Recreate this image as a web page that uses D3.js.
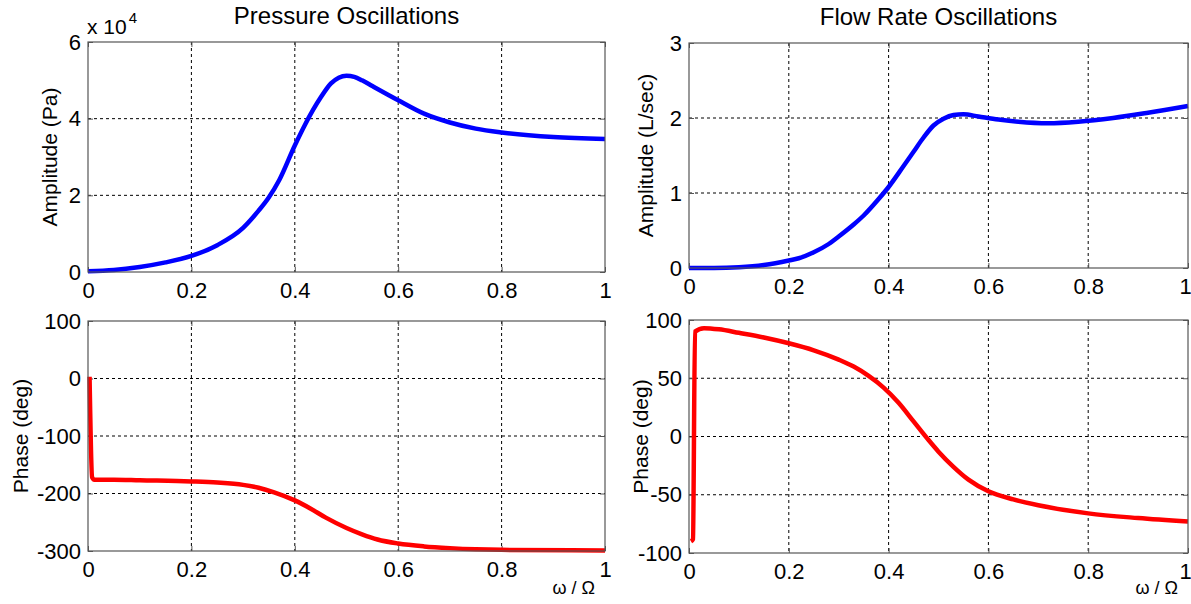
<!DOCTYPE html>
<html>
<head>
<meta charset="utf-8">
<script src="https://cdn.jsdelivr.net/npm/d3@7"></script>
<style>
  body { margin: 0; background: #fff; }
  svg { font-family: "Liberation Sans", Arial, sans-serif; }
  .grid line { stroke: #000; stroke-dasharray: 3,3; stroke-width: 1; }
  .box { fill: none; stroke: #555; stroke-width: 1.2; }
</style>
</head>
<body>
<svg width="1191" height="604"></svg>
<script>
// pressure amplitude (x 10^4 Pa)
const presAmpX = [0, 0.05, 0.1, 0.15, 0.2, 0.25, 0.3, 0.33, 0.35, 0.37, 0.4, 0.42, 0.45, 0.47, 0.485, 0.5, 0.515, 0.53, 0.55, 0.6, 0.65, 0.7, 0.75, 0.8, 0.9, 1.0]
const presAmpY = [0.02, 0.05, 0.13, 0.25, 0.42, 0.7, 1.15, 1.6, 1.95, 2.4, 3.3, 3.85, 4.55, 4.92, 5.07, 5.12, 5.09, 5.0, 4.85, 4.48, 4.13, 3.9, 3.74, 3.64, 3.52, 3.47]

// pressure phase (deg)
const presPhX = [0.003, 0.008, 0.012, 0.05, 0.1, 0.2, 0.25, 0.3, 0.33, 0.36, 0.4, 0.43, 0.46, 0.5, 0.53, 0.56, 0.6, 0.65, 0.7, 0.75, 0.8, 1.0]
const presPhY = [3, -172, -176, -176, -177, -179, -181, -185, -190, -198, -212, -226, -242, -260, -271, -280, -287, -292, -295, -297, -298, -299]

// flow amplitude (L/sec)
const flowAmpX = [0, 0.05, 0.1, 0.15, 0.2, 0.22, 0.25, 0.28, 0.3, 0.33, 0.35, 0.38, 0.4, 0.43, 0.45, 0.47, 0.49, 0.51, 0.53, 0.55, 0.58, 0.62, 0.66, 0.72, 0.78, 0.85, 0.92, 1.0]
const flowAmpY = [0.0, 0.0, 0.01, 0.04, 0.1, 0.13, 0.21, 0.32, 0.42, 0.58, 0.7, 0.92, 1.08, 1.36, 1.55, 1.74, 1.9, 1.99, 2.04, 2.05, 2.02, 1.98, 1.95, 1.93, 1.95, 2.0, 2.07, 2.16]

// flow phase (deg)
const flowPhX = [0.004, 0.008, 0.012, 0.03, 0.06, 0.1, 0.15, 0.2, 0.25, 0.3, 0.33, 0.36, 0.39, 0.42, 0.45, 0.48, 0.5, 0.53, 0.56, 0.6, 0.65, 0.7, 0.8, 0.9, 1.0]
const flowPhY = [-90, -88, 90, 93, 92, 89, 85, 80, 74, 66, 60, 52, 42, 29, 13, -3, -13, -26, -37, -47, -54, -59, -66, -70, -73]

const xTicks = [0, 0.2, 0.4, 0.6, 0.8, 1]
const xTickLabels = ["0", "0.2", "0.4", "0.6", "0.8", "1"]

const svg = d3.select("svg")

const panels = [
  { x0: 88, x1: 605, y0: 42, y1: 272, dom: [0, 6], ticks: [0, 2, 4, 6], xs: presAmpX, ys: presAmpY,
    color: "#0000ff", ylabel: "Amplitude (Pa)", labelX: 50, title: "Pressure Oscillations", titleY: 24, exp: true },
  { x0: 88, x1: 605, y0: 321, y1: 551, dom: [-300, 100], ticks: [-300, -200, -100, 0, 100], xs: presPhX, ys: presPhY,
    color: "#ff0000", ylabel: "Phase (deg)", labelX: 21, xlabel: true },
  { x0: 689, x1: 1188, y0: 43, y1: 268, dom: [0, 3], ticks: [0, 1, 2, 3], xs: flowAmpX, ys: flowAmpY,
    color: "#0000ff", ylabel: "Amplitude (L/sec)", labelX: 646, title: "Flow Rate Oscillations", titleY: 25, right: true },
  { x0: 689, x1: 1188, y0: 320, y1: 553, dom: [-100, 100], ticks: [-100, -50, 0, 50, 100], xs: flowPhX, ys: flowPhY,
    color: "#ff0000", ylabel: "Phase (deg)", labelX: 641, xlabel: true, right: true }
]

panels.forEach(p => {
  const x = d3.scaleLinear().domain([0, 1]).range([p.x0, p.x1])
  const y = d3.scaleLinear().domain(p.dom).range([p.y1, p.y0])
  const g = svg.append("g")

  // grid
  g.append("g").attr("class", "grid")
    .selectAll("line").data(xTicks.slice(1, -1)).enter().append("line")
    .attr("x1", d => x(d)).attr("x2", d => x(d))
    .attr("y1", p.y0).attr("y2", p.y1)
  g.append("g").attr("class", "grid")
    .selectAll("line").data(p.ticks.slice(1, -1)).enter().append("line")
    .attr("x1", p.x0).attr("x2", p.x1)
    .attr("y1", d => y(d)).attr("y2", d => y(d))

  // axes, ticks pointing inward like matlab
  const xAxis = g.append("g")
    .attr("transform", `translate(0,${p.y1})`)
    .call(d3.axisBottom(x).tickValues(xTicks).tickFormat((d, i) => xTickLabels[i]).tickSizeInner(-5).tickSizeOuter(0).tickPadding(10))
  g.append("g")
    .attr("transform", `translate(${p.x0},0)`)
    .call(d3.axisLeft(y).tickValues(p.ticks).tickFormat(d => d).tickSizeInner(-5).tickSizeOuter(0).tickPadding(7))
  g.append("g")
    .attr("transform", `translate(0,${p.y0})`)
    .call(d3.axisTop(x).tickValues(xTicks).tickFormat("").tickSizeInner(-5).tickSizeOuter(0))
  g.append("g")
    .attr("transform", `translate(${p.x1},0)`)
    .call(d3.axisRight(y).tickValues(p.ticks).tickFormat("").tickSizeInner(-5).tickSizeOuter(0))

  g.selectAll(".domain").remove()
  g.selectAll(".tick line").attr("stroke", "#555")
  g.selectAll(".tick text")
    .attr("font-family", "Liberation Sans, Arial, sans-serif")
    .attr("font-size", 22)
    .attr("fill", "#000")

  // keep the last "1" inside the picture on the right plots
  if (p.right) {
    xAxis.selectAll(".tick text").filter(d => d === 1).attr("dx", -3)
  }

  // curve
  const pts = p.xs.map((d, i) => [d, p.ys[i]])
  const line = d3.line().x(d => x(d[0])).y(d => y(d[1])).curve(d3.curveMonotoneX)
  g.append("path").datum(pts)
    .attr("d", line)
    .attr("fill", "none")
    .attr("stroke", p.color)
    .attr("stroke-width", 4.5)
    .attr("stroke-linejoin", "round")

  // box
  g.append("rect").attr("class", "box")
    .attr("x", p.x0).attr("y", p.y0)
    .attr("width", p.x1 - p.x0).attr("height", p.y1 - p.y0)

  // y label
  g.append("text")
    .attr("transform", `translate(${p.labelX},${(p.y0 + p.y1) / 2}) rotate(-90)`)
    .attr("text-anchor", "middle")
    .attr("dy", "0.35em")
    .attr("font-size", 21)
    .text(p.ylabel)

  if (p.title) {
    g.append("text")
      .attr("x", (p.x0 + p.x1) / 2).attr("y", p.titleY)
      .attr("text-anchor", "middle")
      .attr("font-size", 24)
      .text(p.title)
  }
  if (p.exp) {
    const t = g.append("text").attr("x", p.x0 - 1).attr("y", 34).attr("font-size", 21)
    t.append("tspan").text("x 10")
    t.append("tspan").attr("dy", -11).attr("dx", 2).attr("font-size", 15).text("4")
  }
  if (p.xlabel) {
    g.append("text")
      .attr("x", p.x1 - 10).attr("y", 594)
      .attr("text-anchor", "end")
      .attr("font-size", 18)
      .text("ω / Ω")
  }
})
</script>
</body>
</html>
